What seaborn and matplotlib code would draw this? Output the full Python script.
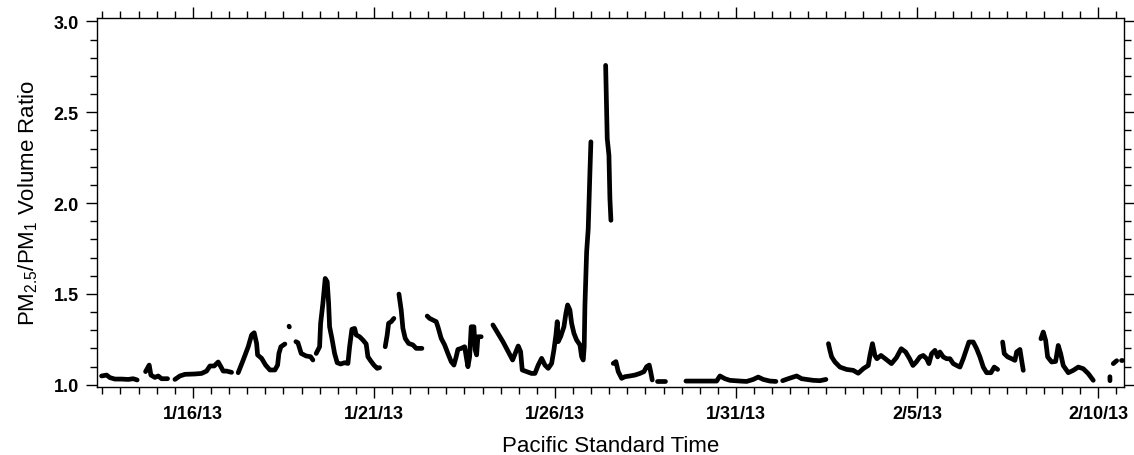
import numpy as np
import pandas as pd
import matplotlib
matplotlib.use("Agg")
import matplotlib.pyplot as plt
import matplotlib.dates as mdates
import matplotlib.ticker as mticker
import seaborn as sns

nan = np.nan
start_date = "2013-01-16"

# time in days since start_date; NaN marks gaps in the record
time_days = [
    -2.522, -2.384, -2.293, -2.155, -1.970, -1.787, -1.649, -1.539, nan,
    -1.307, -1.207, -1.160, -1.050, -0.959, -0.865, -0.699, nan,
    -0.497, -0.359, -0.221, 0.055, 0.240, 0.378, 0.470, 0.588, 0.699, 0.773, 0.837, 0.931, 1.069, nan,
    1.251, 1.390, 1.528, 1.622, 1.693, 1.760, 1.787, 1.898, 2.008, 2.127, 2.265, 2.340, 2.376, 2.431, 2.541, nan,
    2.655, 2.665, nan,
    2.845, 2.901, 2.992, 3.130, 3.251, 3.315, nan,
    3.406, 3.500, 3.528, 3.591, 3.655, 3.710, 3.749, 3.776, 3.840, 3.914, 3.986, 4.080, 4.191, 4.282,
    4.329, 4.392, 4.467, 4.511, 4.605, 4.696, 4.787, 4.834, 4.909, 5.000, 5.091, 5.157, nan,
    5.312, 5.367, 5.406, 5.478, 5.552, nan,
    5.691, 5.754, 5.801, 5.865, 5.959, 6.077, 6.169, 6.326, nan,
    6.472, 6.539, 6.630, 6.721, 6.768, 6.859, 6.953, 7.044, 7.135, 7.210, 7.273, 7.320, 7.412, 7.506,
    7.550, 7.597, 7.644, 7.688, 7.762, 7.798, 7.837, 7.873, 7.964, nan,
    8.287, 8.425, 8.564, 8.710, 8.831, 8.923, 8.986, 9.052, 9.097, 9.218, 9.356, 9.448, 9.539, 9.633,
    9.724, 9.815, 9.909, 9.972, 10.028, 10.064, 10.091, 10.157, 10.249, 10.304, 10.351, 10.414, 10.461,
    10.525, 10.599, 10.691, 10.738, 10.782, 10.809, 10.829, 10.876, 10.920, 10.967, 10.994, nan,
    11.401, 11.445, 11.492, 11.519, 11.547, nan,
    11.611, 11.685, 11.749, 11.843, 11.934, 12.072, 12.210, 12.348, 12.459, 12.533, 12.605, 12.644, 12.688, nan,
    12.818, 13.039, nan,
    13.619, 14.467, 14.558, 14.696, 14.834, 15.110, 15.296, 15.478, 15.616, 15.754, 15.939, 16.105, nan,
    16.290, 16.445, 16.583, 16.677, 16.815, 16.953, 17.135, 17.320, 17.486, nan,
    17.555, 17.597, 17.644, 17.735, 17.873, 18.058, 18.240, 18.378, 18.517, 18.655, 18.702, 18.771,
    18.840, 18.895, 19.006, 19.157, 19.296, 19.434, 19.566, 19.688, 19.798, 19.890, 19.981, 20.083,
    20.174, 20.268, 20.331, 20.406, 20.497, 20.572, 20.635, 20.727, 20.820, 20.912, 21.003, 21.097,
    21.188, 21.279, 21.373, 21.436, 21.555, 21.649, 21.740, 21.832, 21.925, 22.044, 22.135, 22.229, nan,
    22.367, 22.412, 22.506, 22.616, 22.707, 22.754, 22.845, 22.892, 22.937, nan,
    23.425, 23.489, 23.555, 23.610, 23.721, 23.831, 23.903, 23.970, 24.041, 24.180, 24.318, 24.456,
    24.594, 24.732, 24.870, nan,
    25.330, 25.332, nan,
    25.423, 25.517, nan,
    25.650, 25.660,
]

# PM2.5/PM1 volume ratio (same order as time_days)
ratio = [
    1.048, 1.053, 1.039, 1.031, 1.031, 1.029, 1.033, 1.026, nan,
    1.072, 1.108, 1.053, 1.040, 1.048, 1.033, 1.033, nan,
    1.029, 1.048, 1.057, 1.059, 1.062, 1.075, 1.103, 1.103, 1.125, 1.099, 1.075, 1.075, 1.068, nan,
    1.066, 1.136, 1.209, 1.274, 1.286, 1.227, 1.164, 1.145, 1.108, 1.081, 1.081, 1.108, 1.172, 1.209, 1.224, nan,
    1.322, 1.318, nan,
    1.237, 1.231, 1.172, 1.158, 1.154, 1.136, nan,
    1.172, 1.209, 1.338, 1.448, 1.585, 1.567, 1.448, 1.319, 1.255, 1.172, 1.121, 1.114, 1.121, 1.117,
    1.209, 1.305, 1.310, 1.274, 1.264, 1.246, 1.224, 1.154, 1.132, 1.108, 1.090, 1.094, nan,
    1.209, 1.274, 1.338, 1.347, 1.365, nan,
    1.499, 1.411, 1.310, 1.255, 1.227, 1.219, 1.200, 1.200, nan,
    1.378, 1.365, 1.356, 1.347, 1.319, 1.255, 1.219, 1.172, 1.127, 1.108, 1.154, 1.194, 1.200, 1.209,
    1.154, 1.099, 1.154, 1.319, 1.319, 1.191, 1.164, 1.264, 1.264, nan,
    1.329, 1.283, 1.237, 1.182, 1.136, 1.182, 1.213, 1.182, 1.081, 1.072, 1.062, 1.062, 1.108, 1.145,
    1.108, 1.090, 1.117, 1.191, 1.274, 1.347, 1.237, 1.264, 1.319, 1.393, 1.439, 1.411, 1.338,
    1.283, 1.246, 1.219, 1.154, 1.136, 1.209, 1.437, 1.731, 1.859, 2.171, 2.337, nan,
    2.758, 2.355, 2.263, 2.024, 1.905, nan,
    1.117, 1.127, 1.072, 1.035, 1.044, 1.048, 1.053, 1.062, 1.072, 1.099, 1.108, 1.072, 1.026, nan,
    1.022, 1.022, nan,
    1.020, 1.020, 1.048, 1.033, 1.024, 1.020, 1.018, 1.029, 1.042, 1.029, 1.020, 1.018, nan,
    1.022, 1.033, 1.042, 1.048, 1.033, 1.029, 1.024, 1.022, 1.029, nan,
    1.226, 1.189, 1.153, 1.125, 1.097, 1.084, 1.079, 1.063, 1.088, 1.106, 1.161, 1.226,
    1.160, 1.143, 1.161, 1.138, 1.116, 1.149, 1.198, 1.180, 1.143, 1.106, 1.125, 1.153,
    1.161, 1.143, 1.116, 1.171, 1.189, 1.153, 1.180, 1.153, 1.143, 1.143, 1.116, 1.106,
    1.097, 1.143, 1.198, 1.235, 1.235, 1.198, 1.153, 1.097, 1.066, 1.066, 1.097, 1.084, nan,
    1.235, 1.171, 1.153, 1.143, 1.134, 1.180, 1.194, 1.134, 1.079, nan,
    1.253, 1.290, 1.244, 1.153, 1.125, 1.128, 1.216, 1.171, 1.106, 1.066, 1.079, 1.097,
    1.088, 1.061, 1.024, nan,
    1.044, 1.022, nan,
    1.116, 1.132, nan,
    1.134, 1.134,
]

x_tick_dates = ["2013-01-16", "2013-01-21", "2013-01-26", "2013-01-31", "2013-02-05", "2013-02-10"]
x_tick_labels = ["1/16/13", "1/21/13", "1/26/13", "1/31/13", "2/5/13", "2/10/13"]
y_ticks = [1.0, 1.5, 2.0, 2.5, 3.0]
x_range_days = [-2.65, 25.72]
y_range = [0.987, 3.019]

# ---- build table ----
days = np.array(time_days, dtype=float)
vals = np.array(ratio, dtype=float)
seg = np.cumsum(np.isnan(days))
df = pd.DataFrame({"days": days, "ratio": vals, "seg": seg}).dropna()
base = pd.Timestamp(start_date)
df["time"] = base + pd.to_timedelta(df["days"], unit="D")

sns.set_theme(style="ticks")
plt.rcParams["font.family"] = ["Liberation Sans", "DejaVu Sans"]
plt.rcParams["mathtext.default"] = "regular"
plt.rcParams["text.color"] = "black"
plt.rcParams["axes.labelcolor"] = "black"
plt.rcParams["xtick.color"] = "black"
plt.rcParams["ytick.color"] = "black"

fig = plt.figure(figsize=(11.34, 4.56), dpi=100)
ax = fig.add_axes([0.0855, 0.149, 0.9057, 0.8094])

sns.lineplot(data=df, x="time", y="ratio", units="seg", estimator=None, sort=False,
             color="black", linewidth=3.4, solid_capstyle="round", ax=ax, legend=False)

ax.set_xlim(base + pd.Timedelta(days=x_range_days[0]), base + pd.Timedelta(days=x_range_days[1]))
ax.set_ylim(*y_range)

ax.xaxis.set_major_locator(mticker.FixedLocator(mdates.date2num(pd.to_datetime(x_tick_dates))))
ax.xaxis.set_major_formatter(mticker.FixedFormatter(x_tick_labels))
ax.xaxis.set_minor_locator(mdates.HourLocator(byhour=[0, 12]))
ax.yaxis.set_major_locator(mticker.FixedLocator(y_ticks))
ax.yaxis.set_major_formatter(mticker.FormatStrFormatter("%.1f"))
ax.yaxis.set_minor_locator(mticker.MultipleLocator(0.1))

for s in ax.spines.values():
    s.set_visible(True)
    s.set_linewidth(1.0)
    s.set_color("black")

ax.tick_params(which="major", direction="out", length=8, width=1.0, color="black",
               labelcolor="black", top=True, right=True, labeltop=False, labelright=False,
               labelsize=13, pad=5)
ax.tick_params(which="minor", direction="out", length=5, width=1.0, color="black",
               top=True, right=True)
for lab in ax.get_xticklabels() + ax.get_yticklabels():
    lab.set_fontweight("bold")

ax.set_xlabel("Pacific Standard Time", fontsize=16, labelpad=9, color="black")
ax.set_ylabel("PM$_{2.5}$/PM$_1$ Volume Ratio", fontsize=16, labelpad=10, color="black")

fig.savefig("out.png", dpi=100)
